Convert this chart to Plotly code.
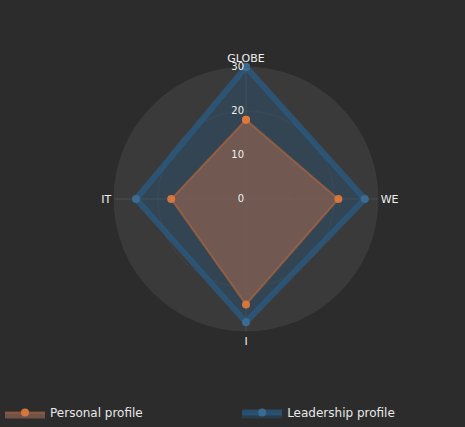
import plotly.graph_objects as go

categories = ["GLOBE", "WE", "I", "IT"]
personal = [18, 21, 24, 17]
leadership = [30, 27, 28, 25]
radial_ticks = [0, 10, 20, 30]

W, H = 465, 427
cx, cy, R = 246, 199, 132

fig = go.Figure()
fig.add_trace(go.Scatterpolar(
    r=leadership + leadership[:1], theta=categories + categories[:1],
    mode="lines+markers", name="Leadership profile", legend="legend2",
    line=dict(color="rgba(40,95,140,0.65)", width=6),
    marker=dict(color="rgba(60,110,150,0.9)", size=8),
    fill="toself", fillcolor="rgba(40,90,130,0.35)",
))
fig.add_trace(go.Scatterpolar(
    r=personal + personal[:1], theta=categories + categories[:1],
    mode="lines+markers", name="Personal profile", legend="legend",
    line=dict(color="rgba(200,110,60,0.5)", width=2),
    marker=dict(color="rgba(220,120,60,0.95)", size=8),
    fill="toself", fillcolor="rgba(135,95,82,0.75)",
))

leg_common = dict(orientation="h", y=0.0, xanchor="left", yanchor="bottom",
                  itemwidth=40, font=dict(size=12, color="#e8e8e8"),
                  bgcolor="rgba(0,0,0,0)")

fig.update_layout(
    width=W, height=H,
    margin=dict(l=0, r=0, t=0, b=0),
    paper_bgcolor="#2c2c2c",
    font=dict(family="DejaVu Sans", color="#e8e8e8", size=12),
    showlegend=True,
    legend=dict(x=0.0, **leg_common),
    legend2=dict(x=0.51, **leg_common),
    polar=dict(
        domain=dict(x=[(cx - R) / W, (cx + R) / W],
                    y=[(H - cy - R) / H, (H - cy + R) / H]),
        bgcolor="#3a3a3a",
        angularaxis=dict(rotation=90, direction="clockwise",
                         categoryorder="array", categoryarray=categories,
                         tickfont=dict(size=11, color="#f0f0f0"),
                         showline=True, linecolor="rgba(70,70,70,0.4)",
                         gridcolor="rgba(110,110,110,0.35)", ticks=""),
        radialaxis=dict(range=[0, 30], tickvals=radial_ticks, angle=90,
                        tickangle=90, side="counterclockwise",
                        showline=False, ticks="",
                        gridcolor="rgba(90,90,90,0.25)",
                        tickfont=dict(size=10, color="#f0f0f0")),
    ),
)

fig.write_html("out.html", config={"displayModeBar": False},
               post_script="document.body.style.margin='0';document.body.style.background='#2c2c2c';")
